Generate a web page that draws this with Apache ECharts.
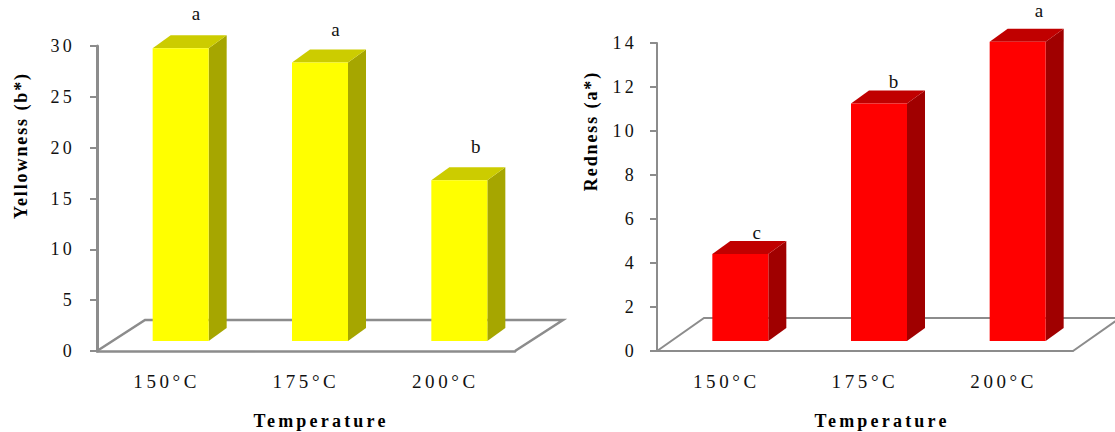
<!DOCTYPE html>
<html>
<head>
<meta charset="utf-8">
<style>
  html, body { margin: 0; padding: 0; background: #fff; }
  #chart { width: 1115px; height: 432px; }
  /* the plot lettering is set wide */
  #chart text { letter-spacing: 3.2px; }
</style>
<script src="https://cdn.jsdelivr.net/npm/echarts@6/dist/echarts.min.js"></script>
</head>
<body>
<div id="chart"></div>
<script>
const categories = ['150°C', '175°C', '200°C'];
const yellowness = [28.8, 27.4, 15.8];
const yellownessLetters = ['a', 'a', 'b'];
const redness = [3.95, 10.8, 13.6];
const rednessLetters = ['c', 'b', 'a'];
const yellownessTicks = [0, 30, 5];
const rednessTicks = [0, 14, 2];
const yellownessTitle = 'Yellowness (b*)';
const rednessTitle = 'Redness (a*)';

const SERIF = '"Liberation Serif", "Times New Roman", serif';
const AXIS_GREY = '#8c8c8c';

// Pseudo-3D geometry, in pixels
const BAR_WIDTH = 56;
const BAR_SHIFT_X = 14;   // bars sit behind the category centre
const BAR_LIFT = 10;      // bar base stands above the front floor edge
const DEPTH_X = 18;
const DEPTH_Y = 13;

const palette = {
  yellow: { front: '#ffff00', top: '#cccc00', side: '#a6a600' },
  red: { front: '#ff0000', top: '#c00000', side: '#a00000' }
};

function poly(points, fill) {
  return { type: 'polygon', shape: { points }, style: { fill, stroke: null } };
}

function barSeries(idx, values, letters, colors, letterGaps, letterShifts) {
  return {
    type: 'custom',
    xAxisIndex: idx,
    yAxisIndex: idx,
    z: 3,
    clip: false,
    silent: true,
    data: values.map((v, i) => [i, v]),
    renderItem(params, api) {
      const i = api.value(0);
      const cx = api.coord([i, 0])[0] + BAR_SHIFT_X;
      const base = api.coord([i, 0])[1] - BAR_LIFT;
      const top = api.coord([i, api.value(1)])[1] - BAR_LIFT;
      const l = cx - BAR_WIDTH / 2;
      const r = cx + BAR_WIDTH / 2;
      return {
        type: 'group',
        children: [
          poly([[r, top], [r + DEPTH_X, top - DEPTH_Y], [r + DEPTH_X, base - DEPTH_Y], [r, base]], colors.side),
          poly([[l, top], [l + DEPTH_X, top - DEPTH_Y], [r + DEPTH_X, top - DEPTH_Y], [r, top]], colors.top),
          poly([[l, top], [r, top], [r, base], [l, base]], colors.front),
          {
            type: 'text',
            style: {
              x: cx + letterShifts[i],
              y: top - DEPTH_Y - letterGaps[i],
              text: letters[i],
              fontFamily: SERIF,
              fontSize: 19,
              fill: '#111',
              align: 'center',
              verticalAlign: 'middle'
            }
          }
        ]
      };
    }
  };
}

function floorSeries(idx, backDx, backDy, lineWidth) {
  return {
    type: 'custom',
    xAxisIndex: idx,
    yAxisIndex: idx,
    z: 1,
    clip: false,
    silent: true,
    data: [[0, 0]],
    renderItem(params) {
      const g = params.coordSys;
      const y0 = g.y + g.height;
      const pts = [
        [g.x, y0],
        [g.x + backDx, y0 - backDy],
        [g.x + g.width + backDx, y0 - backDy],
        [g.x + g.width, y0]
      ];
      return {
        type: 'polyline',
        shape: { points: pts },
        style: { stroke: AXIS_GREY, lineWidth, fill: null }
      };
    }
  };
}

function categoryAxis(grid, shift, lineWidth) {
  return {
    type: 'category',
    gridIndex: grid,
    data: categories,
    name: 'Temperature',
    nameLocation: 'middle',
    nameGap: 61,
    nameTextStyle: { fontFamily: SERIF, fontWeight: 'bold', fontSize: 18, color: '#000', padding: [0, 0, 0, shift] },
    axisTick: { show: false },
    axisLine: { lineStyle: { color: AXIS_GREY, width: lineWidth } },
    axisLabel: { margin: 21, fontFamily: SERIF, fontSize: 19, color: '#111' }
  };
}

function valueAxis(grid, ticks, title, lift, gap, lineWidth, margin) {
  return {
    type: 'value',
    gridIndex: grid,
    min: ticks[0],
    max: ticks[1],
    interval: ticks[2],
    name: title,
    nameLocation: 'middle',
    nameGap: gap,
    nameTextStyle: { fontFamily: SERIF, fontWeight: 'bold', fontSize: 18, color: '#000', padding: [0, 0, 0, lift] },
    splitLine: { show: false },
    axisLine: { show: true, lineStyle: { color: AXIS_GREY, width: lineWidth } },
    axisTick: { show: true, length: 7, lineStyle: { color: AXIS_GREY, width: 2 } },
    axisLabel: { margin, padding: [5, 0, 0, 0], fontFamily: SERIF, fontSize: 18, color: '#111' }
  };
}

const chart = echarts.init(document.getElementById('chart'), null, { renderer: 'svg' });
chart.setOption({
  animation: false,
  backgroundColor: '#fff',
  grid: [
    { left: 97, top: 46, width: 418, height: 305, outerBoundsMode: 'none' },
    { left: 657, top: 43, width: 416, height: 308, outerBoundsMode: 'none' }
  ],
  xAxis: [categoryAxis(0, 30, 2.5), categoryAxis(1, 34, 2)],
  yAxis: [
    valueAxis(0, yellownessTicks, yellownessTitle, 106, 67, 3, 22),
    valueAxis(1, rednessTicks, rednessTitle, 132, 57, 2, 20)
  ],
  series: [
    floorSeries(0, 48, 31, 2.5),
    floorSeries(1, 47, 33, 2),
    barSeries(0, yellowness, yellownessLetters, palette.yellow, [22, 20, 21], [17, 17, 18]),
    barSeries(1, redness, rednessLetters, palette.red, [9, 9, 18], [18, 16, 23])
  ]
});

// Tighter tracking on the upright titles, wider on the category labels
function setTracking() {
  document.querySelectorAll('#chart text').forEach(t => {
    const s = t.textContent;
    if (s === yellownessTitle || s === rednessTitle) t.style.letterSpacing = '1.9px';
    else if (categories.includes(s)) t.style.letterSpacing = '3.6px';
  });
}
setTracking();
chart.on('finished', setTracking);
</script>
</body>
</html>
